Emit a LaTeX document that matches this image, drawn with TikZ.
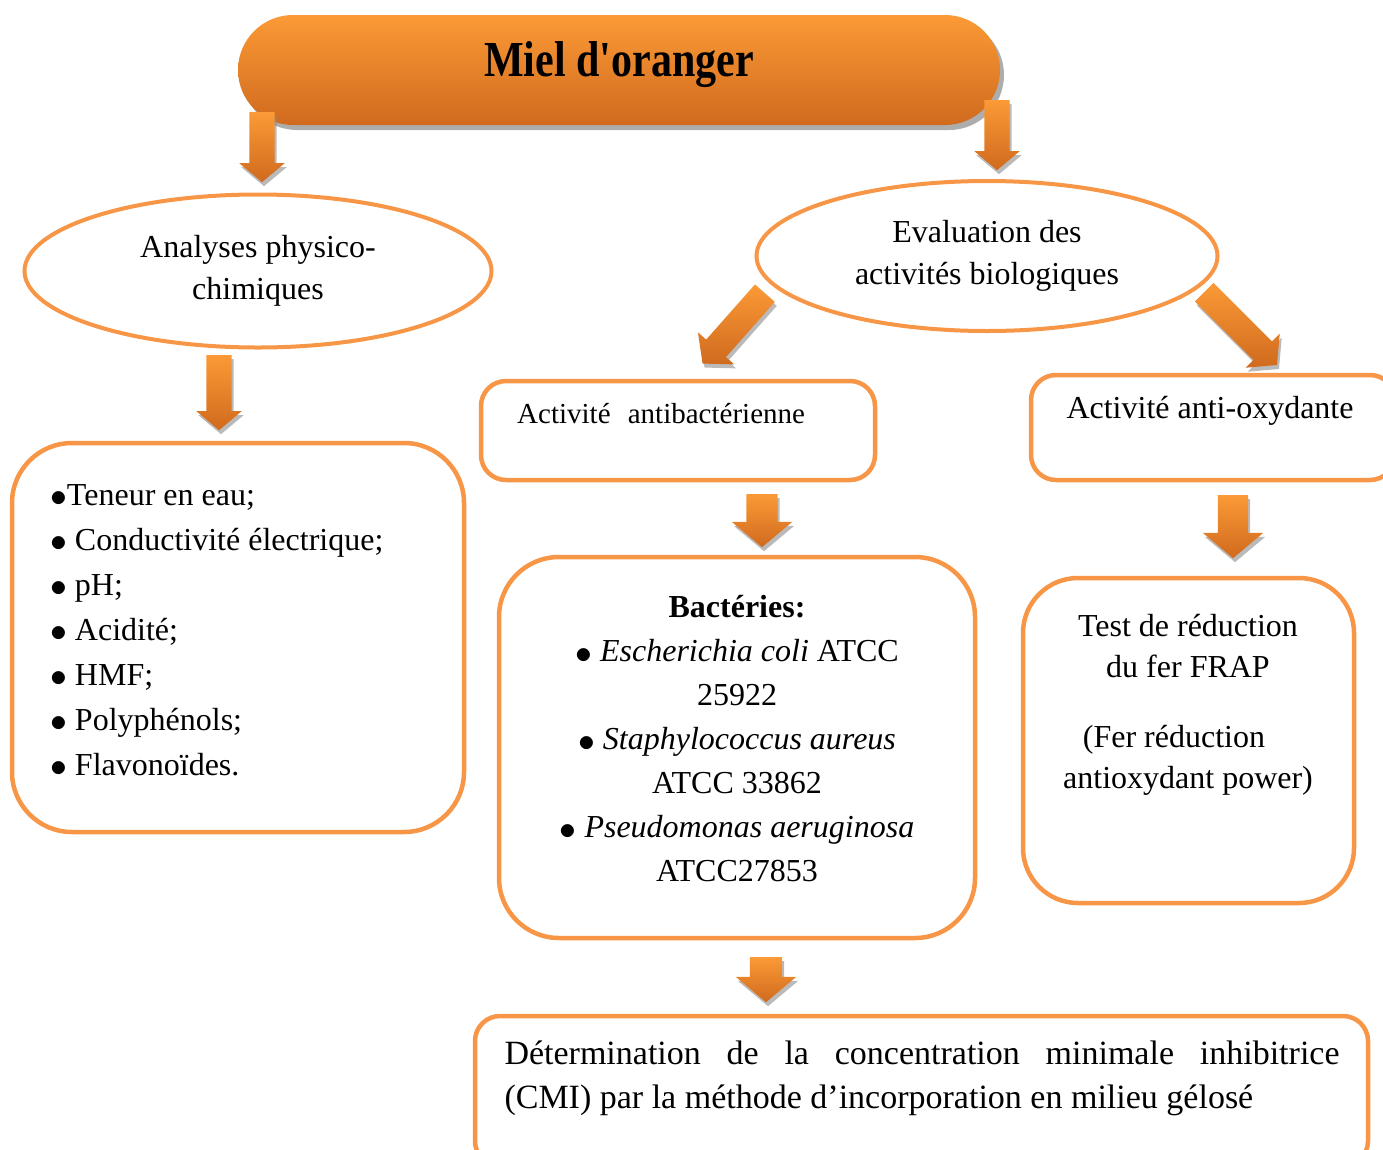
\documentclass[tikz,border=0pt]{standalone}
\usepackage{fontspec}
\setmainfont{Liberation Serif}
\usetikzlibrary{positioning,shapes.geometric,shapes.arrows,shadows}
\definecolor{orline}{HTML}{F79646}
\definecolor{orlight}{HTML}{FB9A36}
\definecolor{ordark}{HTML}{D06A1E}
\newcommand{\bul}{\raisebox{-0.05em}{\scalebox{1.35}{$\bullet$}}}

\begin{document}
\begin{tikzpicture}[x=1pt, y=-1pt,
  font=\fontsize{32}{44}\selectfont,
  oval/.style={draw=orline, line width=4pt, ellipse, align=center, inner sep=0pt},
  box/.style={draw=orline, line width=4.5pt, inner sep=0pt},
  barrow/.style={single arrow, draw=none, inner xsep=0pt, anchor=tail,
                 top color=orlight, bottom color=ordark, single arrow tip angle=100,
                 drop shadow={shadow xshift=2pt, shadow yshift=-4pt, fill=black!45, opacity=.6}},
]
  \useasboundingbox (0,0) rectangle (1383,1149);
  \clip (0,0) rectangle (1383,1149);

  \node[rounded corners=55pt, minimum width=762pt, minimum height=110pt,
        top color=orlight, bottom color=ordark,
        drop shadow={shadow xshift=4pt, shadow yshift=-5pt, fill=black!40, opacity=.8}] (miel) at (619,70) {};
  \node[font=\fontsize{42}{44}\selectfont\bfseries] (mieltxt) at (619,65)
       {\scalebox{1}[1.2]{Miel d\textquotesingle oranger}};

  \node[oval, minimum width=467pt, minimum height=153pt, font=\fontsize{32}{42}\selectfont] (physico) at (258,271)
       {Analyses physico-\\chimiques};
  \node[oval, minimum width=461pt, minimum height=150pt, font=\fontsize{32}{42}\selectfont] (evalbio) at (987,256)
       {Evaluation des\\activités biologiques};

  \node[box, rounded corners=60pt, minimum width=452pt, minimum height=389pt] (params) at (238,637.5) {};
  \node[anchor=north west, inner sep=0pt, align=flush left, font=\fontsize{32}{45}\selectfont] (paramstxt) at (50,484)
       {\bul Teneur en eau;\\
        \bul\ Conductivité électrique;\\
        \bul\ pH;\\
        \bul\ Acidité;\\
        \bul\ HMF;\\
        \bul\ Polyphénols;\\
        \bul\ Flavonoïdes.};

  \node[box, rounded corners=25pt, minimum width=394pt, minimum height=99pt] (antibact) at (678,430.5) {};
  \node[anchor=west, inner sep=0pt, font=\fontsize{29}{40}\selectfont] (antibacttxt) at (517,414)
       {Activité\hspace{10pt} antibactérienne};
  \node[box, rounded corners=25pt, minimum width=364pt, minimum height=105pt] (antiox) at (1213,427.5) {};
  \node (antioxtxt) at (1210,411) {Activité anti-oxydante};

  \node[box, rounded corners=60pt, minimum width=476pt, minimum height=381pt] (bact) at (737,747.5) {};
  \node[align=flush center] (bacttxt) at (737,739)
       {\textbf{Bactéries:}\\
        \bul\ \textit{Escherichia coli} ATCC\\
        25922\\
        \bul\ \textit{Staphylococcus aureus}\\
        ATCC 33862\\
        \bul\ \textit{Pseudomonas aeruginosa}\\
        ATCC27853};

  \node[box, rounded corners=55pt, minimum width=331pt, minimum height=325pt] (frap) at (1188.5,740.5) {};
  \node[align=flush center, font=\fontsize{32}{41.5}\selectfont] (fraptxt) at (1188,705)
       {Test de réduction\\du fer FRAP\\[28pt]\hspace*{-28pt}(Fer réduction\\antioxydant power)};

  \node[box, rounded corners=25pt, minimum width=893pt, minimum height=150pt] (cmi) at (921.5,1091) {};
  \node[text width=835pt, align=justify, font=\fontsize{34}{44}\selectfont] (cmitxt) at (922,1078)
       {Détermination de la concentration minimale inhibitrice\linebreak (CMI) par la méthode d’incorporation en milieu gélosé};

  \node[barrow, minimum height=70pt, inner ysep=12.5pt, single arrow head extend=10pt, rotate=-90] (a1) at (262,112) {};
  \node[barrow, minimum height=70pt, inner ysep=12.5pt, single arrow head extend=10pt, rotate=-90] (a2) at (997,100) {};
  \node[barrow, minimum height=75pt, inner ysep=12.5pt, single arrow head extend=10pt, rotate=-90] (a3) at (219,355) {};
  \node[barrow, minimum height=94pt, inner ysep=13pt, single arrow head extend=11pt, rotate=228.5] (a4) at (765,293) {};
  \node[barrow, minimum height=103pt, inner ysep=13pt, single arrow head extend=11pt, rotate=-45] (a5) at (1204,292) {};
  \node[barrow, minimum height=53pt, inner ysep=15.5pt, single arrow head extend=14.5pt, rotate=-90] (a6) at (762,494) {};
  \node[barrow, minimum height=63pt, inner ysep=15pt, single arrow head extend=15pt, rotate=-90] (a7) at (1233,495) {};
  \node[barrow, minimum height=45pt, inner ysep=16pt, single arrow head extend=14pt, rotate=-90] (a8) at (766,957) {};
\end{tikzpicture}
\end{document}
